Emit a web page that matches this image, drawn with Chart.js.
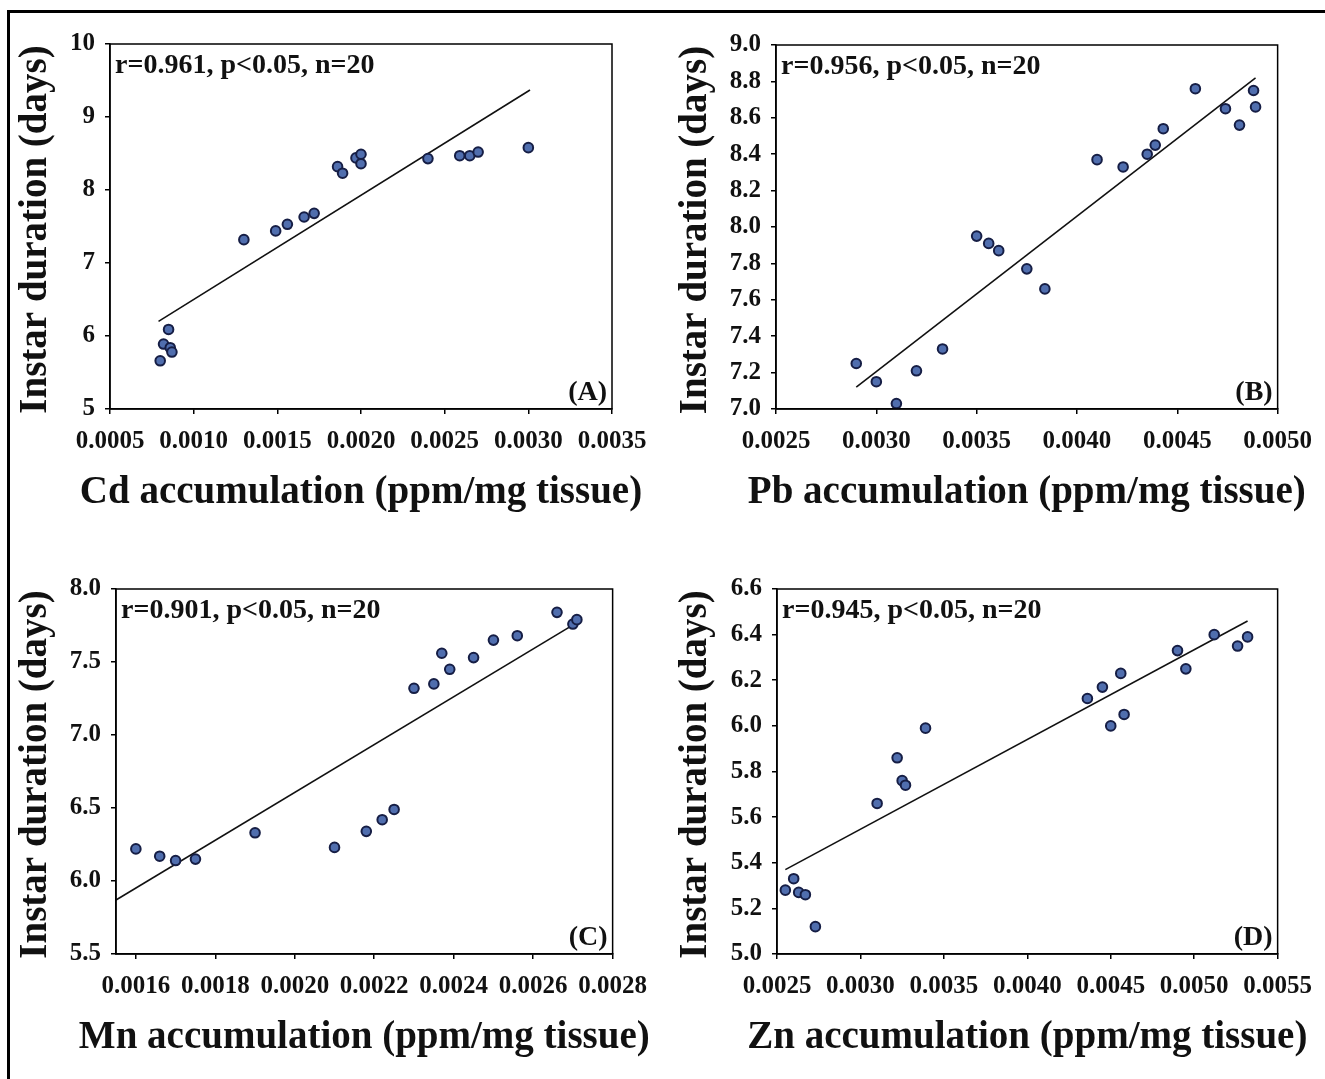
<!DOCTYPE html>
<html>
<head>
<meta charset="utf-8">
<script src="https://cdn.jsdelivr.net/npm/chart.js@4.4.1/dist/chart.umd.min.js"></script>
<style>
  html, body { margin: 0; padding: 0; background: #fff; overflow: hidden; width: 1325px; height: 1079px; }
  #frame { position: absolute; left: 7px; top: 10px; width: 1400px; height: 1200px; border-top: 3px solid #000; border-left: 3px solid #000; }
  canvas { position: absolute; }
</style>
</head>
<body>
<div id="frame"></div>
<canvas id="cA"></canvas>
<canvas id="cB"></canvas>
<canvas id="cC"></canvas>
<canvas id="cD"></canvas>
<script>
// ---------- DATA ----------
// Panel A: Cd
const xA = [0.00080, 0.00082, 0.00085, 0.00086, 0.00087, 0.00130, 0.00149, 0.00156, 0.00166, 0.00172, 0.00186, 0.00189, 0.00197, 0.00200, 0.00200, 0.00240, 0.00259, 0.00265, 0.00270, 0.00300];
const yA = [5.66, 5.89, 6.09, 5.84, 5.78, 7.32, 7.44, 7.53, 7.63, 7.68, 8.32, 8.23, 8.44, 8.49, 8.36, 8.43, 8.47, 8.47, 8.52, 8.58];
const trendXA = [0.00079, 0.00301];
const trendYA = [6.20, 9.37];
const xTicksA = [0.0005, 0.0010, 0.0015, 0.0020, 0.0025, 0.0030, 0.0035];
const xLabelsA = ['0.0005', '0.0010', '0.0015', '0.0020', '0.0025', '0.0030', '0.0035'];
const yTicksA = [5, 6, 7, 8, 9, 10];
const yLabelsA = ['5', '6', '7', '8', '9', '10'];

// Panel B: Pb
const xB = [0.00290, 0.00300, 0.00310, 0.00320, 0.00333, 0.00350, 0.00356, 0.00361, 0.00375, 0.00384, 0.00410, 0.00423, 0.00435, 0.00439, 0.00443, 0.00459, 0.00474, 0.00481, 0.00488, 0.00489];
const yB = [7.25, 7.15, 7.03, 7.21, 7.33, 7.95, 7.91, 7.87, 7.77, 7.66, 8.37, 8.33, 8.40, 8.45, 8.54, 8.76, 8.65, 8.56, 8.75, 8.66];
const trendXB = [0.00290, 0.00489];
const trendYB = [7.12, 8.82];
const xTicksB = [0.0025, 0.0030, 0.0035, 0.0040, 0.0045, 0.0050];
const xLabelsB = ['0.0025', '0.0030', '0.0035', '0.0040', '0.0045', '0.0050'];
const yTicksB = [7.0, 7.2, 7.4, 7.6, 7.8, 8.0, 8.2, 8.4, 8.6, 8.8, 9.0];
const yLabelsB = ['7.0', '7.2', '7.4', '7.6', '7.8', '8.0', '8.2', '8.4', '8.6', '8.8', '9.0'];

// Panel C: Mn
const xC = [0.00160, 0.00166, 0.00170, 0.00175, 0.00190, 0.00210, 0.00218, 0.00222, 0.00225, 0.00230, 0.00235, 0.00237, 0.00239, 0.00245, 0.00250, 0.00256, 0.00266, 0.00270, 0.00271];
const yC = [6.22, 6.17, 6.14, 6.15, 6.33, 6.23, 6.34, 6.42, 6.49, 7.32, 7.35, 7.56, 7.45, 7.53, 7.65, 7.68, 7.84, 7.76, 7.79];
const trendXC = [0.00155, 0.00271];
const trendYC = [5.87, 7.77];
const xTicksC = [0.0016, 0.0018, 0.0020, 0.0022, 0.0024, 0.0026, 0.0028];
const xLabelsC = ['0.0016', '0.0018', '0.0020', '0.0022', '0.0024', '0.0026', '0.0028'];
const yTicksC = [5.5, 6.0, 6.5, 7.0, 7.5, 8.0];
const yLabelsC = ['5.5', '6.0', '6.5', '7.0', '7.5', '8.0'];

// Panel D: Zn
const xD = [0.00255, 0.00260, 0.00263, 0.00267, 0.00273, 0.00310, 0.00322, 0.00325, 0.00327, 0.00339, 0.00436, 0.00445, 0.00450, 0.00456, 0.00458, 0.00490, 0.00495, 0.00512, 0.00526, 0.00532];
const yD = [5.28, 5.33, 5.27, 5.26, 5.12, 5.66, 5.86, 5.76, 5.74, 5.99, 6.12, 6.17, 6.00, 6.23, 6.05, 6.33, 6.25, 6.40, 6.35, 6.39];
const trendXD = [0.00255, 0.00532];
const trendYD = [5.37, 6.46];
const xTicksD = [0.0025, 0.0030, 0.0035, 0.0040, 0.0045, 0.0050, 0.0055];
const xLabelsD = ['0.0025', '0.0030', '0.0035', '0.0040', '0.0045', '0.0050', '0.0055'];
const yTicksD = [5.0, 5.2, 5.4, 5.6, 5.8, 6.0, 6.2, 6.4, 6.6];
const yLabelsD = ['5.0', '5.2', '5.4', '5.6', '5.8', '6.0', '6.2', '6.4', '6.6'];

const statText = ['r=0.961, p<0.05, n=20', 'r=0.956, p<0.05, n=20', 'r=0.901, p<0.05, n=20', 'r=0.945, p<0.05, n=20'];
const panelLetters = ['(A)', '(B)', '(C)', '(D)'];
const xTitles = ['Cd accumulation (ppm/mg tissue)', 'Pb accumulation (ppm/mg tissue)', 'Mn accumulation (ppm/mg tissue)', 'Zn accumulation (ppm/mg tissue)'];
const yTitle = 'Instar duration (days)';
const xMin = [0.0005, 0.0025, 0.00155, 0.0025];
const xMax = [0.0035, 0.0050, 0.0028, 0.0055];

// ---------- LAYOUT ----------
const FONT = '"Liberation Serif", "Times New Roman", serif';
const layouts = [
  { cl: 0,   ct: 14,  cw: 660, ch: 520, al: 110, ar: 612,  at: 44,  ab: 409 },
  { cl: 660, ct: 14,  cw: 665, ch: 520, al: 776, ar: 1282, at: 45,  ab: 409 },
  { cl: 0,   ct: 559, cw: 660, ch: 520, al: 116, ar: 619,  at: 589, ab: 954 },
  { cl: 660, ct: 559, cw: 665, ch: 520, al: 777, ar: 1280, at: 589, ab: 954 }
];

const decor = {
  id: 'decor',
  afterDraw(chart, args, opts) {
    const { ctx, chartArea: a } = chart;
    ctx.save();
    ctx.strokeStyle = '#000';
    ctx.lineWidth = 1.5;
    ctx.strokeRect(a.left, a.top, a.right - a.left, a.bottom - a.top);
    ctx.fillStyle = '#111';
    // statistics text
    ctx.font = 'bold 28px ' + FONT;
    ctx.textAlign = 'left';
    ctx.textBaseline = 'middle';
    ctx.fillText(opts.stat, a.left + 5, a.top + 22);
    // panel letter
    ctx.font = 'bold 28px ' + FONT;
    ctx.textAlign = 'right';
    ctx.textBaseline = 'alphabetic';
    ctx.fillText(opts.letter, a.right - 5, a.bottom - 9);
    // x axis title
    ctx.font = 'bold 39px ' + FONT;
    ctx.textAlign = 'center';
    ctx.textBaseline = 'middle';
    ctx.fillText(opts.xTitle, (a.left + a.right) / 2, a.bottom + 84);
    // y axis title
    ctx.translate(opts.yTitleX, (a.top + a.bottom) / 2 + 3);
    ctx.rotate(-Math.PI / 2);
    ctx.fillText(opts.yTitle, 0, 0);
    ctx.restore();
  }
};

function pts(xs, ys) { return xs.map((x, i) => ({ x: x, y: ys[i] })); }

function makePanel(idx, canvasId, xs, ys, tx, ty, xTicks, xLabels, yTicks, yLabels) {
  const L = layouts[idx];
  const cv = document.getElementById(canvasId);
  cv.width = L.cw; cv.height = L.ch;
  cv.style.left = L.cl + 'px'; cv.style.top = L.ct + 'px';
  cv.style.width = L.cw + 'px'; cv.style.height = L.ch + 'px';
  const tickFont = { family: FONT, weight: 'bold', size: 25, lineHeight: 1.2 };
  const gridOpts = { display: true, drawOnChartArea: false, drawTicks: true, tickLength: 5, color: '#000', lineWidth: 1.5 };
  new Chart(cv, {
    type: 'scatter',
    data: {
      datasets: [
        { data: pts(xs, ys), pointRadius: 4.8, pointBackgroundColor: '#506eae', pointBorderColor: '#161e45', pointBorderWidth: 2, order: 1 },
        { data: pts(tx, ty), showLine: true, pointRadius: 0, borderColor: '#111', borderWidth: 1.6, order: 2 }
      ]
    },
    options: {
      responsive: false, animation: false, devicePixelRatio: 1,
      layout: { padding: { top: L.at - L.ct, right: L.cl + L.cw - L.ar, left: 0, bottom: 0 } },
      plugins: {
        legend: { display: false }, tooltip: { enabled: false },
        decor: { stat: statText[idx], letter: panelLetters[idx], xTitle: xTitles[idx], yTitle: yTitle, yTitleX: 36 }
      },
      scales: {
        x: {
          type: 'linear', min: xMin[idx], max: xMax[idx],
          afterBuildTicks: s => { s.ticks = xTicks.map(v => ({ value: v })); },
          afterFit: s => { s.height = L.ct + L.ch - L.ab; },
          ticks: { callback: (v, i) => xLabels[i], font: tickFont, color: '#111', padding: 13, maxRotation: 0, minRotation: 0, autoSkip: false },
          grid: gridOpts,
          border: { display: true, color: '#000', width: 1.5 },
          title: { display: false }
        },
        y: {
          type: 'linear', min: yTicks[0], max: yTicks[yTicks.length - 1],
          afterBuildTicks: s => { s.ticks = yTicks.map(v => ({ value: v })); },
          afterFit: s => { s.width = L.al - L.cl; },
          ticks: { callback: (v, i) => yLabels[i], font: tickFont, color: '#111', padding: 10, autoSkip: false },
          grid: gridOpts,
          border: { display: true, color: '#000', width: 1.5 },
          title: { display: false }
        }
      }
    },
    plugins: [decor]
  });
}

makePanel(0, 'cA', xA, yA, trendXA, trendYA, xTicksA, xLabelsA, yTicksA, yLabelsA);
makePanel(1, 'cB', xB, yB, trendXB, trendYB, xTicksB, xLabelsB, yTicksB, yLabelsB);
makePanel(2, 'cC', xC, yC, trendXC, trendYC, xTicksC, xLabelsC, yTicksC, yLabelsC);
makePanel(3, 'cD', xD, yD, trendXD, trendYD, xTicksD, xLabelsD, yTicksD, yLabelsD);
</script>
</body>
</html>
